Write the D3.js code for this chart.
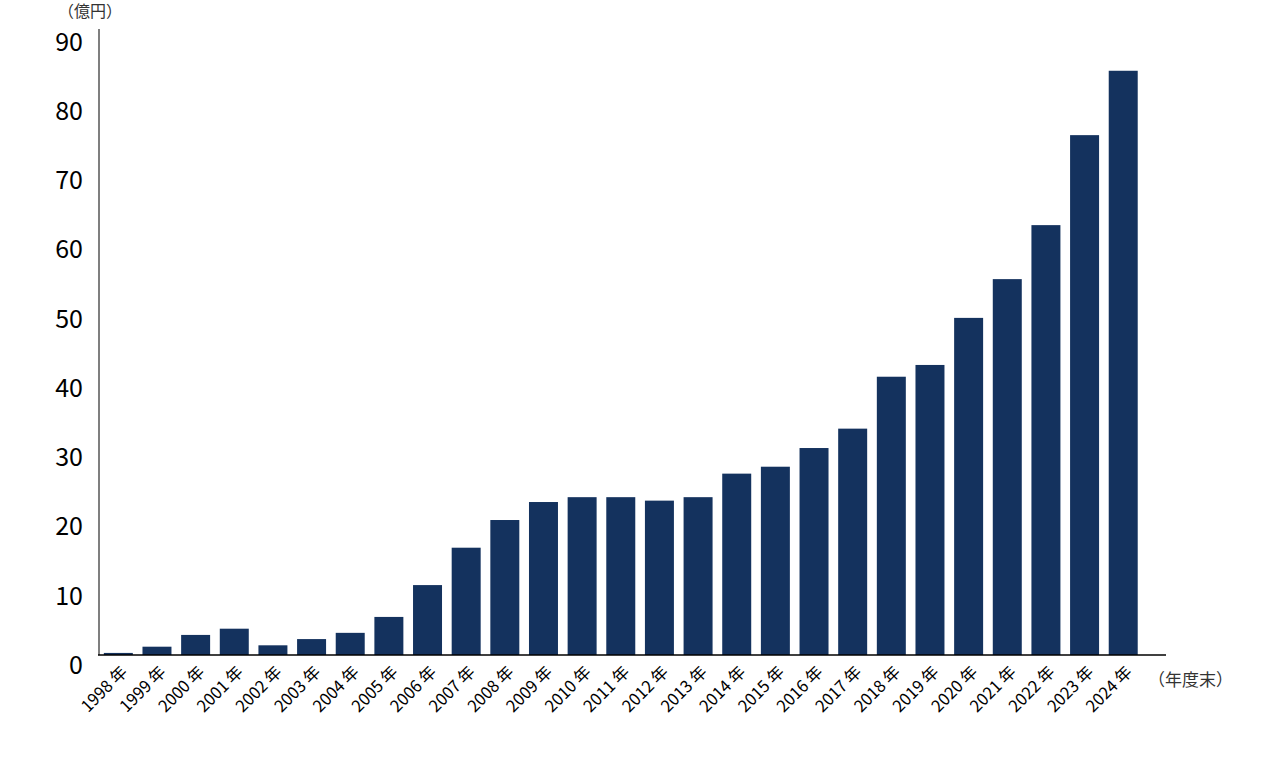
<!DOCTYPE html><html><head><meta charset="utf-8"><script src="https://cdn.jsdelivr.net/npm/d3@7"></script>
<style>body{margin:0;background:#fff}text{font-family:"Noto Sans CJK JP","Noto Sans",sans-serif}</style></head><body><svg id="c" width="1280" height="761"></svg>
<script>
const years=["1998","1999","2000","2001","2002","2003","2004","2005","2006","2007","2008","2009","2010","2011","2012","2013","2014","2015","2016","2017","2018","2019","2020","2021","2022","2023","2024"];
const values=[0.3,1.2,2.9,3.8,1.4,2.3,3.2,5.5,10.1,15.5,19.5,22.1,22.8,22.8,22.3,22.8,26.2,27.2,29.9,32.7,40.2,41.9,48.7,54.3,62.1,75.1,84.4];
const yTicks=[0,10,20,30,40,50,60,70,80,90];
const svg=d3.select("#c");
const x=d3.scaleBand().domain(years).range([99,99+27*38.65]).paddingInner(0.25).paddingOuter(0.125);
const y=d3.scaleLinear().domain([0,90]).range([655,32]);
svg.selectAll("rect").data(values).join("rect").attr("x",(d,i)=>x(years[i])).attr("width",x.bandwidth())
 .attr("y",d=>y(d)).attr("height",d=>655-y(d)).attr("fill","#14325e");
svg.append("line").attr("x1",99).attr("x2",99).attr("y1",29).attr("y2",655).attr("stroke","#555").attr("stroke-width",1.5);
svg.append("line").attr("x1",98).attr("x2",1166).attr("y1",655).attr("y2",655).attr("stroke","#000").attr("stroke-width",1.5);
svg.selectAll(".yt").data(yTicks).join("text").attr("x",83).attr("y",d=>y(d)+10).attr("dy","0.35em").attr("text-anchor","end").attr("font-size",25).text(d=>d);
svg.selectAll(".xt").data(years).join("text").attr("text-anchor","end").attr("font-size",16.5)
 .attr("transform",d=>`translate(${x(d)+x.bandwidth()/2+10},${673}) rotate(-45)`).text(d=>d+" 年");
svg.append("text").attr("x",58).attr("y",17).attr("font-size",16).attr("fill","#333").text("（億円）");
svg.append("text").attr("x",1148).attr("y",686).attr("font-size",17).attr("fill","#333").text("（年度末）");
</script></body></html>
